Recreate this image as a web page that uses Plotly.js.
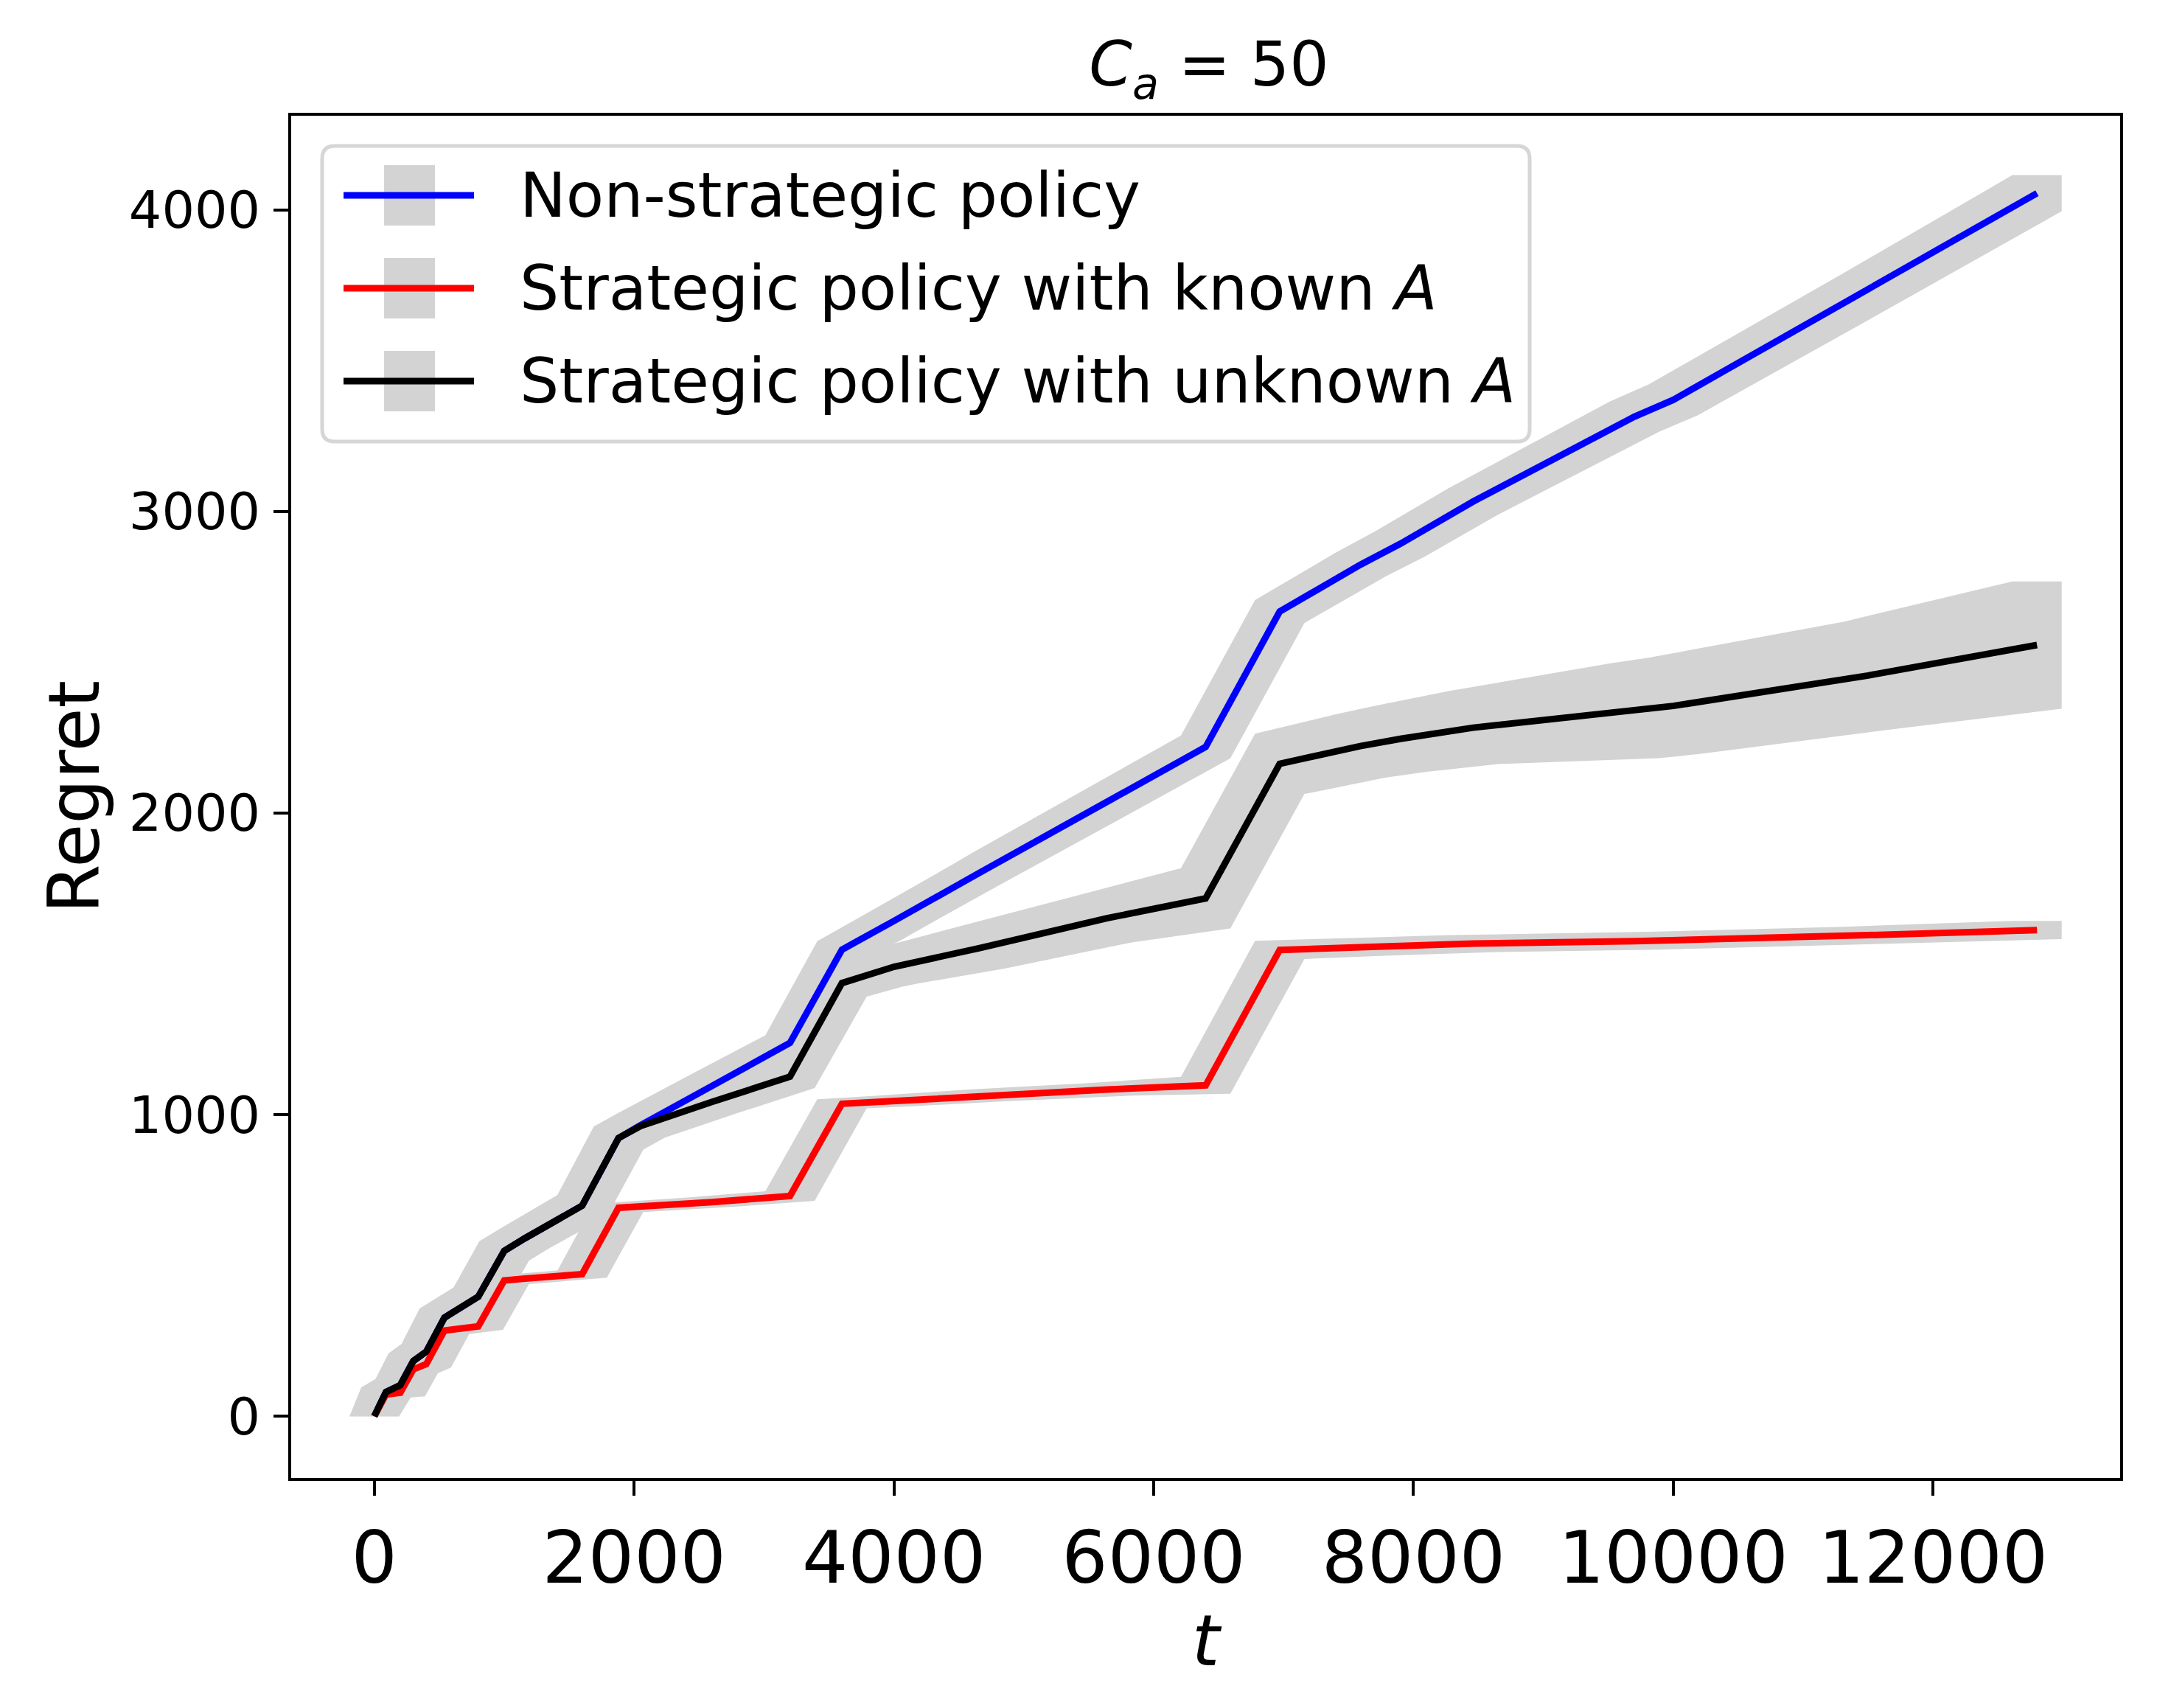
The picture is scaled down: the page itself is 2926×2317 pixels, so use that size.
<!DOCTYPE html>
<html>
<head>
<meta charset="utf-8">
<script src="https://cdn.plot.ly/plotly-3.0.1.min.js"></script>
<style>html,body{margin:0;padding:0;background:#fff;}#chart{width:2926px;height:2317px;}</style>
</head>
<body>
<div id="chart"></div>
<script>
// ---------------- data ----------------
const T = [0, 90, 200, 300, 400, 540, 800, 1000, 1160, 1600, 1880, 2050, 2600, 3200, 3600, 3880, 4000, 4660, 4790, 5640, 6400, 6970, 7590, 7900, 8460, 9700, 10000, 11500, 12800];

const nonStrategicMean = [0, 80, 103, 183, 214, 327, 396, 548, 590, 698, 922, 965, 1095, 1238, 1547, 1612, 1642, 1802, 1834, 2037, 2219, 2668, 2823, 2893, 3033, 3314, 3370, 3735, 4055];
const nonStrategicStd  = [0, 15, 20, 25, 25, 30, 30, 32, 32, 35, 38, 36, 32, 25, 28, 30, 30, 32, 33, 36, 38, 38, 40, 42, 44, 50, 51, 55, 60];

const knownMean = [0, 72, 78, 155, 173, 284, 298, 450, 456, 471, 691, 695, 710, 730, 1036, 1042, 1045, 1062, 1066, 1083, 1097, 1546, 1555, 1560, 1567, 1575, 1578, 1595, 1612];
const knownStd  = [0, 10, 12, 12, 12, 12, 12, 12, 12, 12, 14, 14, 15, 16, 15, 16, 16, 18, 18, 20, 28, 30, 28, 28, 28, 28, 28, 28, 30];

const unknownMean = [0, 80, 103, 183, 214, 327, 396, 548, 590, 698, 922, 962, 1042, 1126, 1436, 1475, 1490, 1552, 1565, 1651, 1717, 2163, 2222, 2246, 2283, 2339, 2355, 2456, 2557];
const unknownStd  = [0, 15, 20, 25, 25, 30, 30, 32, 32, 35, 38, 38, 38, 38, 45, 50, 55, 68, 70, 80, 100, 100, 105, 110, 121, 157, 160, 178, 211];

const seriesNames = ["Non-strategic policy", "Strategic policy with known <i>A</i>", "Strategic policy with unknown <i>A</i>"];
const seriesColors = ["#0000ff", "#ff0000", "#000000"];
const xTicks = [0, 2000, 4000, 6000, 8000, 10000, 12000];
const yTicks = [0, 1000, 2000, 3000, 4000];

// ---------------- style ----------------
const FONT = "DejaVu Sans";
const BAND = "#d3d3d3";
const BAND_HALF_T = 190;   // half thickness of the thick error-bar strokes, in t units
const LINE_W = 9;

// The grey band is the union of thick vertical error bars (mean ± std);
// for rising curves its outline is the top edge shifted left and the bottom edge shifted right.
function band(t, m, s, h) {
  const xs = [], ys = [];
  const n = t.length;
  xs.push(t[0] - h); ys.push(m[0] - s[0]);
  for (let i = 0; i < n; i++) { xs.push(t[i] - h); ys.push(m[i] + s[i]); }
  xs.push(t[n - 1] + h); ys.push(m[n - 1] + s[n - 1]);
  for (let i = n - 1; i >= 0; i--) { xs.push(t[i] + h); ys.push(m[i] - s[i]); }
  xs.push(t[0] - h); ys.push(m[0] - s[0]);
  return {x: xs, y: ys};
}

const means = [nonStrategicMean, knownMean, unknownMean];
const stds = [nonStrategicStd, knownStd, unknownStd];

const traces = [];
for (let k = 0; k < 3; k++) {
  const b = band(T, means[k], stds[k], BAND_HALF_T);
  traces.push({x: b.x, y: b.y, type: "scatter", mode: "lines", fill: "toself",
    fillcolor: BAND, line: {width: 0, color: BAND}, hoverinfo: "skip", showlegend: false});
}
for (let k = 0; k < 3; k++) {
  traces.push({x: T, y: means[k], type: "scatter", mode: "lines", name: seriesNames[k],
    line: {color: seriesColors[k], width: LINE_W}, showlegend: false});
}

// ---------------- layout geometry (pixels of the 2926x2317 page) ----------------
const W = 2926, H = 2317;
const L = 395, R = 2876, TOP = 157, BOT = 2005;
const px = X => (X - L) / (R - L);
const py = Y => (BOT - Y) / (BOT - TOP);

// legend (drawn by hand: grey error-bar patch + coloured line + label)
const lg = {x0: 437, x1: 2075, y0: 198, y1: 599, r: 17};
function roundRect(x0, y0, x1, y1, r) {
  const rx = r / (R - L), ry = r / (BOT - TOP);
  const a = px(x0), b = px(x1), c = py(y0), d = py(y1); // c top, d bottom
  return `M${a + rx},${c} L${b - rx},${c} Q${b},${c} ${b},${c - ry} L${b},${d + ry} Q${b},${d} ${b - rx},${d} L${a + rx},${d} Q${a},${d} ${a},${d + ry} L${a},${c - ry} Q${a},${c} ${a + rx},${c} Z`;
}
const shapes = [{type: "path", xref: "paper", yref: "paper", path: roundRect(lg.x0, lg.y0, lg.x1, lg.y1, lg.r),
  fillcolor: "rgba(255,255,255,0.8)", line: {color: "#d6d6d6", width: 5}, layer: "above"}];
const annotations = [];
const rowY = [265, 391, 517];
for (let k = 0; k < 3; k++) {
  shapes.push({type: "rect", xref: "paper", yref: "paper", x0: px(521), x1: px(590), y0: py(rowY[k] - 41), y1: py(rowY[k] + 41),
    fillcolor: BAND, line: {width: 0}, layer: "above"});
  shapes.push({type: "line", xref: "paper", yref: "paper", x0: px(466), x1: px(643), y0: py(rowY[k]), y1: py(rowY[k]),
    line: {color: seriesColors[k], width: LINE_W}, layer: "above"});
  annotations.push({xref: "paper", yref: "paper", x: px(703), y: py(rowY[k]), xanchor: "left", yanchor: "middle",
    text: seriesNames[k], showarrow: false, font: {family: FONT, size: 84, color: "#000"}});
}

const axisCommon = {
  ticks: "outside", ticklen: 20, tickwidth: 4, tickcolor: "#000",
  showline: true, linewidth: 4, linecolor: "#000", mirror: true,
  showgrid: false, zeroline: false
};

const layout = {
  width: W, height: H,
  margin: {l: L, r: W - R, t: TOP, b: H - BOT, pad: 0},
  paper_bgcolor: "#fff", plot_bgcolor: "#fff",
  showlegend: false,
  font: {family: FONT, color: "#000"},
  title: {text: "<i>C</i><sub><i>a</i></sub> = 50", font: {family: FONT, size: 84, color: "#000"},
    x: px(1640), xref: "paper", xanchor: "center", y: 1 - 87 / H, yref: "container", yanchor: "middle"},
  xaxis: Object.assign({}, axisCommon, {
    range: [-640, 13440], tickmode: "array", tickvals: xTicks, ticktext: xTicks.map(String),
    tickfont: {family: FONT, size: 98, color: "#000"},
    title: {text: "<i>t</i>", font: {family: FONT, size: 96, color: "#000"}, standoff: 10}
  }),
  yaxis: Object.assign({}, axisCommon, {
    range: [-205, 4312], tickmode: "array", tickvals: yTicks, ticktext: yTicks.map(String),
    tickfont: {family: FONT, size: 70, color: "#000"}, ticklabelstandoff: 4,
    title: {text: "Regret", font: {family: FONT, size: 96, color: "#000"}, standoff: 9}
  }),
  shapes: shapes,
  annotations: annotations
};

Plotly.newPlot("chart", traces, layout, {staticPlot: true, displayModeBar: false});
</script>
</body>
</html>
